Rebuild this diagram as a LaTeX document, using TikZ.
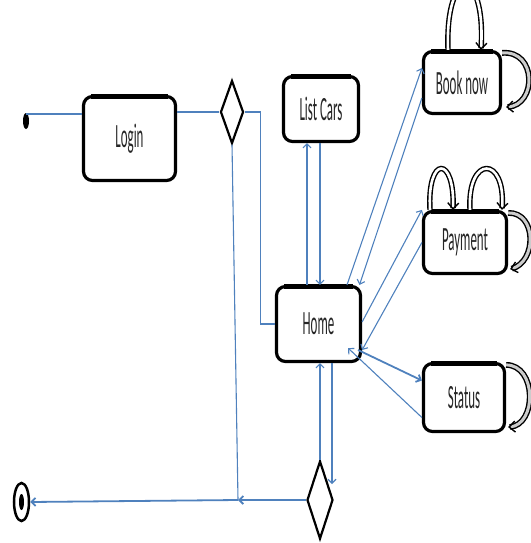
\documentclass[tikz,border=0pt]{standalone}
\usepackage{fontspec}
\usepackage{graphicx}
\setmainfont{Carlito}
\usetikzlibrary{arrows.meta,shapes.geometric,calc}
\newcommand{\sqz}[1]{\scalebox{0.38}[1]{#1}}
\definecolor{lnblue}{RGB}{79,129,189}
\tikzset{
  statebox/.style={draw=black, line width=3.2pt, rounded corners=9pt, inner sep=0pt, fill=white,
    font=\fontsize{34}{34}\selectfont, text=black!85},
  topbar/.style={draw=black, line width=5pt},
  decision/.style={diamond, draw=black, line width=2.2pt, inner sep=0pt, fill=white},
  bl/.style={draw=lnblue, line width=1.1pt},
  blthick/.style={draw=lnblue, line width=1.8pt},
  arr/.style={-{Straight Barb[length=4pt,width=8pt]}},
  loopd/.style={draw=black, line width=1.4pt, double=white, double distance=2.6pt,
    -{Straight Barb[length=6pt,width=11pt]}},
  loopg/.style={draw=black, line width=1.4pt, double=gray!40, double distance=3pt,
    -{Straight Barb[length=6pt,width=11pt]}}
}
\begin{document}
\begin{tikzpicture}[x=1pt,y=-1pt]
\useasboundingbox (0,0) rectangle (530,543);
% nodes
\node[ellipse, fill=black, inner sep=0pt, minimum width=6pt, minimum height=16pt] (init) at (26,121) {};
\node[statebox, minimum width=92pt, minimum height=84pt] (login) at (129.5,138.5) {\sqz{Login}};
\node[decision, minimum width=23pt, minimum height=63pt] (d1) at (232,112) {};
\node[statebox, minimum width=75pt, minimum height=65pt] (list) at (321,109) {\sqz{List Cars}};
\node[statebox, minimum width=84pt, minimum height=75pt] (home) at (318.5,324) {\sqz{Home}};
\node[statebox, minimum width=77pt, minimum height=62pt] (book) at (462,82.5) {\sqz{Book now}};
\node[statebox, minimum width=83pt, minimum height=62pt] (pay) at (465,242.5) {\sqz{Payment}};
\node[statebox, minimum width=81pt, minimum height=68pt] (status) at (464,397.5) {\sqz{Status}};
\node[decision, minimum width=26pt, minimum height=78pt] (d2) at (320,500) {};
\node[ellipse, draw=black, line width=2.5pt, inner sep=0pt, minimum width=15pt, minimum height=38pt] (final) at (21.5,502) {};
\node[ellipse, fill=black, inner sep=0pt, minimum width=5pt, minimum height=16pt] (finaldot) at (21.5,502) {};
\coordinate (j) at (238,500);
\coordinate (e2) at (332,484);
% heavier top edges
\foreach \n in {login,list,home,book,pay,status}{
  \draw[topbar] ([xshift=9pt,yshift=-1.5pt]\n.north west) -- ([xshift=-9pt,yshift=-1.5pt]\n.north east);
}
% connectors
\draw[blthick] ([yshift=7pt]init.center) coordinate (a) -- (a -| login.west);
\draw[blthick] (d1.west -| login.east) -- (d1.west);
\draw[bl] (d1.east) -- ++(16,0) |- (home.west);
\draw[bl] (d1.south) -- (j);
\draw[blthick,arr] (d2.west) -- (j);
\draw[blthick,arr] (j) -- (final.east);
\draw[bl,arr] ([xshift=-11.5pt]home.north) -- ([xshift=-14pt]list.south);
\draw[bl,arr] ([xshift=-1pt]list.south) -- ([xshift=1.5pt]home.north);
\draw[bl,arr] (d2.north) -- (d2.north |- home.south);
\draw[bl,arr] ([xshift=13.5pt]home.south) -- (e2);
\draw[bl,arr] ([xshift=28.5pt]home.north) -- ([yshift=14.5pt]book.west);
\draw[bl,arr] ([yshift=-15.5pt]book.west) -- ([xshift=41pt]home.north);
\draw[bl,arr] ([yshift=2pt]home.east) -- (pay.north west);
\draw[bl,arr] (pay.west) -- ([yshift=-26pt]home.east);
\draw[blthick,arr] ([xshift=-4pt,yshift=-26pt]home.east) -- ([yshift=17pt]status.west);
\draw[bl,arr] ([yshift=-20pt]status.west) -- ([xshift=-14pt,yshift=15pt]home.south east);
% self loops
\draw[loopd] ([xshift=-14pt]book.north) .. controls (445,-35) and (486,-35) .. ([xshift=19pt]book.north);
\draw[loopg] ([yshift=-3pt]book.north east) .. controls (537,50) and (537,105) .. ([xshift=4pt,yshift=8pt]book.south east);
\draw[loopd] ([xshift=-35pt]pay.north) .. controls (427,155) and (455,155) .. ([xshift=-12pt]pay.north);
\draw[loopd] ([xshift=5pt]pay.north) .. controls (467,155) and (506,155) .. ([xshift=37pt]pay.north);
\draw[loopg] ([yshift=-3pt]pay.north east) .. controls (537,212) and (537,262) .. ([xshift=2pt,yshift=6pt]pay.south east);
\draw[loopg] ([yshift=-3pt]status.north east) .. controls (537,365) and (537,425) .. ([xshift=2pt,yshift=6pt]status.south east);
\end{tikzpicture}
\end{document}
